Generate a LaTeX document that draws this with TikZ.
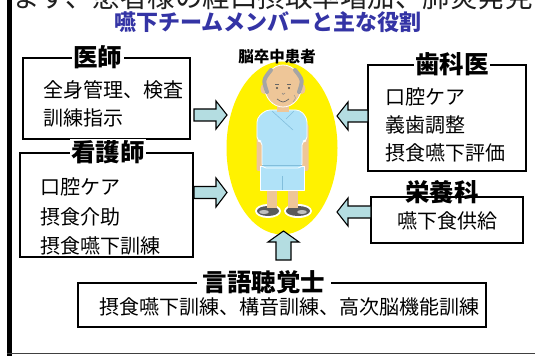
\documentclass[tikz,border=0pt]{standalone}
\usepackage{fontspec}
\newfontfamily\jp{Noto Sans CJK JP}
\usetikzlibrary{shapes.geometric}
\definecolor{arrowfill}{RGB}{180,221,225}
\definecolor{titleblue}{RGB}{52,52,165}
\definecolor{skin}{RGB}{238,198,152}
\definecolor{shirt}{RGB}{176,226,248}
\definecolor{shirtline}{RGB}{130,190,220}
\definecolor{hair}{RGB}{165,165,165}
\definecolor{sandal}{RGB}{90,90,90}
\begin{document}
\begin{tikzpicture}[x=1pt,y=-1pt,font=\jp,
  box/.style={draw=black,line width=1.3pt,inner sep=0pt},
  ttl/.style={fill=white,inner sep=1.5pt,font=\jp\bfseries\fontsize{24.5}{26}\selectfont},
  body/.style={font=\jp\fontsize{20}{28}\selectfont,align=left,inner sep=0pt},
  blk/.style={draw=black,line width=1.1pt,fill=arrowfill,line join=miter}]
\useasboundingbox (0,0) rectangle (535,358);
\clip (0,0) rectangle (535,358);
\fill[white] (0,0) rectangle (535,358);

% running text above the heading
\node[anchor=west,inner sep=0pt,text=black!88,font=\jp\fontsize{27.5}{30}\selectfont] (run) at (12,-3) {ます、患者様の経口摂取率増加、肺炎発見};

% heading
\node[text=titleblue,font=\jp\bfseries\fontsize{22}{24}\selectfont,inner sep=0pt] (head) at (268,22) {嚥下チームメンバーと主な役割};

% frame
\draw[line width=5pt,black] (9.5,0) -- (9.5,356);
\draw[line width=1.5pt,black!75] (7,353.5) -- (535,353.5);

% patient
\node[ellipse,fill=yellow,minimum width=111pt,minimum height=173pt,inner sep=0pt] (pt) at (282,148) {};
\node[font=\jp\bfseries\fontsize{15.5}{17}\selectfont,inner sep=0pt] (ptlabel) at (277,57) {脳卒中患者};

% figure of the patient
\begin{scope}[line join=round]
  % sandals
  \fill[white] (268,211) ellipse (13 and 7);
  \fill[white] (298,211) ellipse (14 and 7);
  \fill[sandal] (268,211) ellipse (11 and 5);
  \fill[sandal] (298,211) ellipse (12 and 5);
  \fill[black!25] (264,212) ellipse (5 and 2);
  \fill[black!25] (302,212) ellipse (5 and 2);
  % legs
  \fill[skin] (267,186) rectangle (277,208);
  \fill[skin] (288,186) rectangle (298,208);
  % arms
  \fill[skin,rounded corners=2pt] (256.5,124) rectangle (264,171);
  \fill[skin,rounded corners=2pt] (301,124) rectangle (308.5,171);
  % shorts
  \filldraw[fill=shirt,draw=white,line width=0.8pt] (260,166) rectangle (304,190);
  \draw[shirtline,line width=0.6pt] (282,176) -- (282,190);
  % shirt
  \filldraw[fill=shirt,draw=white,line width=0.8pt,rounded corners=4pt]
    (266,110) -- (300,110) -- (307,118) -- (307,141) -- (302,141) -- (302,168)
    -- (262,168) -- (262,141) -- (257,141) -- (257,118) -- cycle;
  \draw[shirtline,line width=0.6pt] (272,111) -- (293,130);
  \draw[shirtline,line width=0.6pt] (294,111) -- (286,119);
  \draw[shirtline,line width=0.5pt] (262,165) -- (302,165);
  % neck
  \fill[skin] (277,103) rectangle (289,112);
  % ears
  \fill[skin] (264,89) ellipse (3.5 and 5);
  \fill[skin] (302,89) ellipse (3.5 and 5);
  % head
  \filldraw[fill=skin,draw=white,line width=0.8pt] (283,86) ellipse (18.5 and 21);
  % hair at the sides
  \draw[hair,line width=4pt,line cap=round] (267,92) .. controls (263,80) .. (271,70);
  \draw[hair,line width=4pt,line cap=round] (299,92) .. controls (303,80) .. (295,70);
  % face
  \fill[black!70] (277,88) circle (1.2);
  \fill[black!70] (289,88) circle (1.2);
  \draw[black!60,line width=0.5pt] (275,84) -- (279,84);
  \draw[black!60,line width=0.5pt] (287,84) -- (291,84);
  \draw[black!50,line width=0.5pt] (282,93) .. controls (283,95) .. (285,93);
  \draw[black!60,line width=0.7pt] (277,99) .. controls (283,103) .. (289,99);
  \draw[black!40,line width=0.5pt] (294,95) .. controls (296,98) .. (293,102);
\end{scope}

% role boxes
\node[box,minimum width=167pt,minimum height=81pt] (doc) at (106.5,98.5) {};
\node[ttl] (doct) at ([xshift=-9pt]doc.north) {医師};
\node[body,anchor=west] (docb) at (43,103.5) {全身管理、検査\\訓練指示};

\node[box,minimum width=173pt,minimum height=104pt] (nur) at (106.5,205) {};
\node[ttl] (nurt) at ([xshift=1.5pt]nur.north) {看護師};
\node[body,anchor=west,font=\jp\fontsize{20}{29.5}\selectfont] (nurb) at (40,216.5) {口腔ケア\\摂食介助\\摂食嚥下訓練};

\node[box,minimum width=158pt,minimum height=106pt] (den) at (447,118) {};
\node[ttl] (dent) at ([xshift=5pt]den.north) {歯科医};
\node[body,anchor=west] (denb) at (385,125) {口腔ケア\\義歯調整\\摂食嚥下評価};

\node[box,minimum width=152pt,minimum height=46pt] (nut) at (447,220) {};
\node[ttl,fill=none] (nutt) at (442,192) {栄養科};
\node[body] (nutb) at (447,221) {嚥下食供給};

\node[box,minimum width=408pt,minimum height=44pt] (st) at (282,305) {};
\node[ttl,inner xsep=6pt] (stt) at (264,282) {言語聴覚士};
\node[body] (stb) at (289,307) {摂食嚥下訓練、構音訓練、高次脳機能訓練};

% block arrows toward the patient
\draw[blk] (194,109) -- (216,109) -- (216,101) -- (227,115) -- (216,129) -- (216,121) -- (194,121) -- cycle;
\draw[blk] (194,186.5) -- (216,186.5) -- (216,178) -- (227,192.5) -- (216,207) -- (216,198.5) -- (194,198.5) -- cycle;
\draw[blk] (368,110) -- (348,110) -- (348,102) -- (337,116) -- (348,130) -- (348,122) -- (368,122) -- cycle;
\draw[blk] (371,206) -- (348,206) -- (348,198) -- (337,212) -- (348,226) -- (348,218) -- (371,218) -- cycle;
\draw[blk] (276,260) -- (276,242) -- (268,242) -- (283.5,231) -- (299,242) -- (291,242) -- (291,260) -- cycle;
\end{tikzpicture}
\end{document}
